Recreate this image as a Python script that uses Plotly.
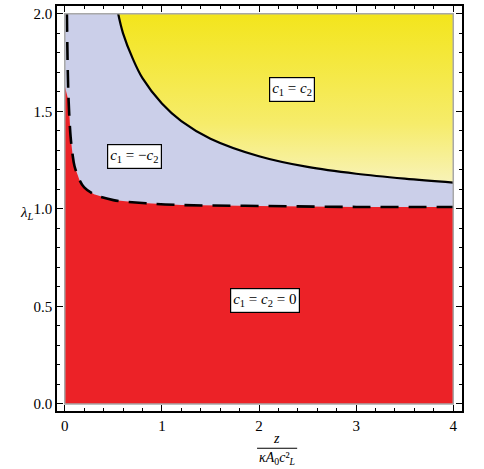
import plotly.graph_objects as go

# boundary of the c1 = c2 region (solid)
solid_x = [0.55, 0.6, 0.7, 0.8, 1.0, 1.2, 1.5, 2.0, 2.5, 3.0, 3.5, 4.0]
solid_y = [2.0, 1.9, 1.77, 1.67, 1.54, 1.45, 1.36, 1.27, 1.215, 1.18, 1.155, 1.135]

# boundary of the c1 = c2 = 0 region (dashed)
dash_x = [0.022, 0.03, 0.04, 0.06, 0.08, 0.1, 0.15, 0.2, 0.3, 0.5, 0.8, 1.2, 2.0, 3.0, 4.0]
dash_y = [2.0, 1.73, 1.55, 1.37, 1.28, 1.22, 1.15, 1.11, 1.075, 1.045, 1.03, 1.02, 1.015, 1.01, 1.01]
red_top_at_zero = 1.63

labels = ["<i>c</i><sub>1</sub> = <i>c</i><sub>2</sub>",
          "<i>c</i><sub>1</sub> = \u2212<i>c</i><sub>2</sub>",
          "<i>c</i><sub>1</sub> = <i>c</i><sub>2</sub> = 0"]
label_x = [2.34, 0.72, 2.06]
label_y = [1.61, 1.27, 0.53]

xticks = [0, 1, 2, 3, 4]
yticks = [0.0, 0.5, 1.0, 1.5, 2.0]

LAV = "#cbcfe9"
RED = "#ec2227"
serif = "Liberation Serif"

fig = go.Figure()

# lavender background region
fig.add_trace(go.Scatter(x=[0, 4, 4, 0, 0], y=[0, 0, 2, 2, 0], mode="lines",
                         fill="toself", fillcolor=LAV, line=dict(width=0),
                         hoverinfo="skip", showlegend=False))

# yellow region
yx = solid_x + [4.0, solid_x[0]]
yy = solid_y + [2.0, 2.0]
fig.add_trace(go.Scatter(x=yx, y=yy, mode="lines", fill="toself",
                         fillgradient=dict(type="vertical",
                                           colorscale=[[0, "#f8f3b8"], [0.35, "#f6ec6a"], [1, "#f3e51c"]]),
                         line=dict(width=0), hoverinfo="skip", showlegend=False))

# red region
rx = [0, 0] + [x for x, y in zip(dash_x, dash_y) if y <= red_top_at_zero] + [4.0, 0]
ry = [0, red_top_at_zero] + [y for y in dash_y if y <= red_top_at_zero] + [0, 0]
fig.add_trace(go.Scatter(x=rx, y=ry, mode="lines", fill="toself", fillcolor=RED,
                         line=dict(width=0), hoverinfo="skip", showlegend=False))

# boundaries
fig.add_trace(go.Scatter(x=solid_x, y=solid_y, mode="lines", line=dict(color="black", width=2.2),
                         line_shape="spline", hoverinfo="skip", showlegend=False))
fig.add_trace(go.Scatter(x=dash_x, y=dash_y, mode="lines",
                         line=dict(color="black", width=2.6, dash="18px,10px"),
                         line_shape="spline", hoverinfo="skip", showlegend=False))

# thin gray border around plotted region
fig.add_shape(type="rect", x0=0, y0=0, x1=4, y1=2, line=dict(color="#a8a8a8", width=1.5))

for t, x, y in zip(labels, label_x, label_y):
    fig.add_annotation(x=x, y=y, text=t, showarrow=False, bgcolor="white",
                       bordercolor="black", borderwidth=1.2, borderpad=2,
                       font=dict(family=serif, size=15, color="black"))

# axis titles
fig.add_annotation(xref="paper", yref="paper", x=-0.096, y=0.49, text="<i>\u03bb</i><sub><i>L</i></sub>",
                   showarrow=False, font=dict(family=serif, size=15, color="black"))
fig.add_annotation(xref="paper", yref="paper", x=0.543, y=-0.088, yanchor="bottom", text="<i>z</i>",
                   showarrow=False, borderpad=0, font=dict(family=serif, size=14, color="black"))
fig.add_annotation(xref="paper", yref="paper", x=0.543, y=-0.094, yanchor="top",
                   text="<i>\u03baA</i><sub>0</sub><i>c</i>\u00b2<sub><i>L</i></sub>",
                   showarrow=False, borderpad=0, font=dict(family=serif, size=14, color="black"))
fig.add_shape(type="line", xref="paper", yref="paper", x0=0.494, x1=0.593, y0=-0.092, y1=-0.092,
              line=dict(color="black", width=1))

axis_common = dict(showgrid=False, zeroline=False, showline=True, linecolor="black", linewidth=1.5,
                   mirror="ticks", ticks="inside", ticklen=6, tickwidth=1.2, tickcolor="black",
                   automargin=False,
                   tickfont=dict(family=serif, size=15, color="black"))
fig.update_xaxes(range=[-0.08, 4.09], tickvals=xticks, ticktext=[str(v) for v in xticks],
                 minor=dict(dtick=0.2, tick0=0, ticks="inside", ticklen=3, tickcolor="black"),
                 **axis_common)
fig.update_yaxes(range=[-0.036, 2.04], tickvals=yticks, ticktext=[f"{v:.1f}" for v in yticks],
                 minor=dict(dtick=0.1, tick0=0, ticks="inside", ticklen=3, tickcolor="black"),
                 **axis_common)

fig.update_layout(width=484, height=469, margin=dict(l=57, r=22, t=6, b=58),
                  plot_bgcolor="white", paper_bgcolor="white")

fig.write_html("out.html", config={"displayModeBar": False},
               post_script="document.body.style.margin='0';")
